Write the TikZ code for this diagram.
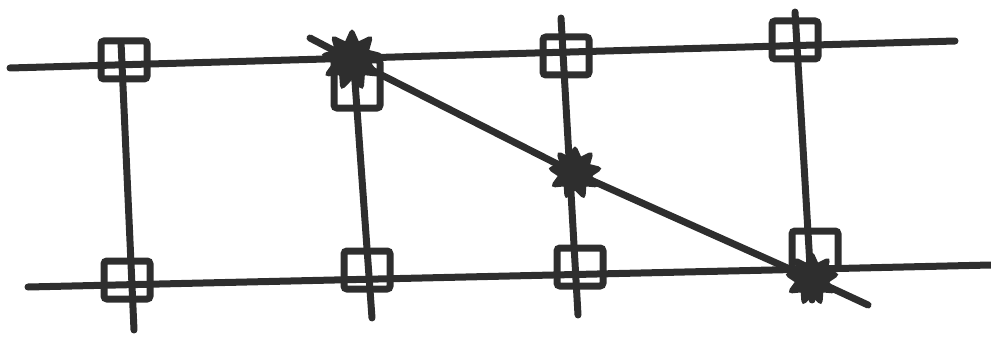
\documentclass[tikz,border=0pt]{standalone}
\usetikzlibrary{positioning,calc,shapes.geometric}
\definecolor{ink}{HTML}{2E2E2E}
\tikzset{
  wire/.style={line width=7pt,color=ink,line cap=round,line join=round},
  clamp/.style={draw=ink,line width=7pt,rectangle,rounded corners=3pt,
    minimum width=46pt,minimum height=38pt,inner sep=0pt},
  knot/.style={star,star points=9,star point ratio=1.7,fill=ink,draw=ink,
    line width=4pt,rounded corners=2pt,inner sep=0pt,minimum size=58pt},
}
\begin{document}
\begin{tikzpicture}[x=1pt,y=-1pt]
  \useasboundingbox (0,0) rectangle (991,337);
  % rails
  \coordinate (tl) at (10,68);
  \coordinate (tr) at (955,41);
  \coordinate (bl) at (28,287);
  \coordinate (br) at (991,265);
  \draw[wire] (tl) -- (tr);
  \draw[wire] (bl) -- (br);

  % posts
  \coordinate (p1a) at (121,42);  \coordinate (p1b) at (134,330);
  \coordinate (p2a) at (352,40);  \coordinate (p2b) at (372,318);
  \coordinate (p3a) at (561,18);  \coordinate (p3b) at (578,315);
  \coordinate (p4a) at (795,12);  \coordinate (p4b) at (812,300);
  \draw[wire] (p1a) -- (p1b);
  \draw[wire] (p2a) -- (p2b);
  \draw[wire] (p3a) -- (p3b);
  \draw[wire] (p4a) -- (p4b);

  % brace
  \coordinate (d0) at (310,38);
  \coordinate (d1) at (868,305);
  \coordinate (k1) at (352,60);
  \coordinate (k2) at (575,173);
  \coordinate (k3) at (812,279);
  \draw[wire] (d0) -- (k1) -- (k2) -- (k3) -- (d1);

  % clamps
  \node[clamp] (t1) at (124,60) {};
  \node[clamp,minimum height=48pt] (t2) at (357,84) {};
  \node[clamp] (t3) at (566,56) {};
  \node[clamp] (t4) at (795,40) {};
  \node[clamp] (b1) at (127,280) {};
  \node[clamp] (b2) at (367,270) {};
  \node[clamp] (b3) at (580,267) {};
  \node[clamp] (b4) at (815,250) {};

  % knots
  \node[knot] (n1) at (k1) {};
  \node[knot,minimum size=50pt] (n2) at (k2) {};
  \node[knot,minimum size=50pt] (n3) at (k3) {};
\end{tikzpicture}
\end{document}
